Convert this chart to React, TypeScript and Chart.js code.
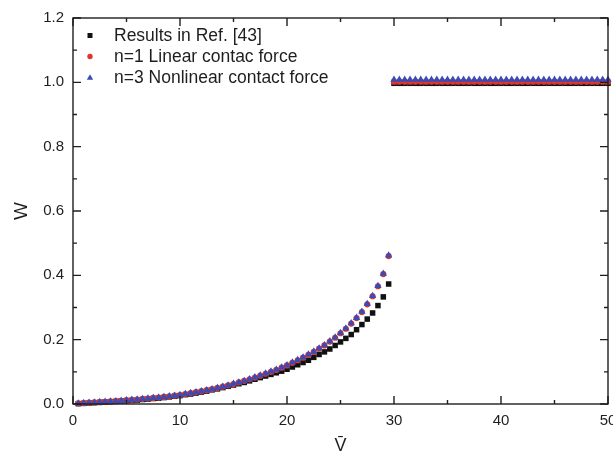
import React, { useEffect, useRef } from 'react';
import { Chart, registerables } from 'chart.js';

Chart.register(...registerables);

// ---- data ----
const V_LOW = [
  0.5, 1, 1.5, 2, 2.5, 3, 3.5, 4, 4.5, 5,
  5.5, 6, 6.5, 7, 7.5, 8, 8.5, 9, 9.5, 10,
  10.5, 11, 11.5, 12, 12.5, 13, 13.5, 14, 14.5, 15,
  15.5, 16, 16.5, 17, 17.5, 18, 18.5, 19, 19.5, 20,
  20.5, 21, 21.5, 22, 22.5, 23, 23.5, 24, 24.5, 25,
  25.5, 26, 26.5, 27, 27.5, 28, 28.5, 29, 29.5,
];
const V_HIGH = [
  30, 30.5, 31, 31.5, 32, 32.5, 33, 33.5, 34, 34.5,
  35, 35.5, 36, 36.5, 37, 37.5, 38, 38.5, 39, 39.5,
  40, 40.5, 41, 41.5, 42, 42.5, 43, 43.5, 44, 44.5,
  45, 45.5, 46, 46.5, 47, 47.5, 48, 48.5, 49, 49.5, 50,
];

const W_REF43_LOW = [
  0.001, 0.002, 0.003, 0.004, 0.005, 0.006, 0.007, 0.008, 0.009, 0.010,
  0.011, 0.012, 0.014, 0.015, 0.017, 0.018, 0.020, 0.022, 0.024, 0.026,
  0.029, 0.031, 0.034, 0.037, 0.040, 0.044, 0.047, 0.051, 0.055, 0.059,
  0.063, 0.067, 0.072, 0.077, 0.082, 0.087, 0.092, 0.097, 0.102, 0.108,
  0.115, 0.122, 0.129, 0.136, 0.145, 0.154, 0.162, 0.171, 0.182, 0.193,
  0.204, 0.216, 0.231, 0.247, 0.264, 0.283, 0.306, 0.333, 0.373,
];
const W_REF43_HIGH = [
  0.997, 0.997, 0.997, 0.997, 0.997, 0.997, 0.997, 0.997, 0.997, 0.997,
  0.997, 0.997, 0.997, 0.997, 0.997, 0.997, 0.997, 0.997, 0.997, 0.997,
  0.997, 0.997, 0.997, 0.997, 0.997, 0.997, 0.997, 0.997, 0.997, 0.997,
  0.997, 0.997, 0.997, 0.997, 0.997, 0.997, 0.997, 0.997, 0.997, 0.997, 0.997,
];

const W_N1_LOW = [
  0.002, 0.003, 0.004, 0.005, 0.006, 0.007, 0.008, 0.009, 0.010, 0.012,
  0.013, 0.014, 0.016, 0.017, 0.019, 0.020, 0.022, 0.024, 0.026, 0.028,
  0.031, 0.034, 0.037, 0.040, 0.043, 0.046, 0.050, 0.054, 0.058, 0.062,
  0.067, 0.072, 0.077, 0.082, 0.088, 0.094, 0.100, 0.106, 0.113, 0.120,
  0.128, 0.136, 0.144, 0.153, 0.162, 0.172, 0.182, 0.194, 0.206, 0.220,
  0.234, 0.250, 0.267, 0.286, 0.310, 0.335, 0.366, 0.404, 0.460,
];
const W_N1_HIGH = [
  1.002, 1.002, 1.002, 1.002, 1.002, 1.002, 1.002, 1.002, 1.002, 1.002,
  1.002, 1.002, 1.002, 1.002, 1.002, 1.002, 1.002, 1.002, 1.002, 1.002,
  1.002, 1.002, 1.002, 1.002, 1.002, 1.002, 1.002, 1.002, 1.002, 1.002,
  1.002, 1.002, 1.002, 1.002, 1.002, 1.002, 1.002, 1.002, 1.002, 1.002, 1.002,
];

const W_N3_LOW = [
  0.002, 0.003, 0.004, 0.005, 0.006, 0.007, 0.008, 0.009, 0.010, 0.012,
  0.013, 0.014, 0.016, 0.017, 0.019, 0.020, 0.022, 0.024, 0.026, 0.028,
  0.031, 0.034, 0.037, 0.040, 0.043, 0.046, 0.050, 0.054, 0.058, 0.063,
  0.067, 0.072, 0.077, 0.083, 0.089, 0.095, 0.101, 0.107, 0.114, 0.121,
  0.129, 0.137, 0.145, 0.154, 0.163, 0.173, 0.183, 0.195, 0.207, 0.221,
  0.235, 0.251, 0.268, 0.287, 0.311, 0.336, 0.367, 0.405, 0.462,
];
const W_N3_HIGH = [
  1.008, 1.008, 1.008, 1.008, 1.008, 1.008, 1.008, 1.008, 1.008, 1.008,
  1.008, 1.008, 1.008, 1.008, 1.008, 1.008, 1.008, 1.008, 1.008, 1.008,
  1.008, 1.008, 1.008, 1.008, 1.008, 1.008, 1.008, 1.008, 1.008, 1.008,
  1.008, 1.008, 1.008, 1.008, 1.008, 1.008, 1.008, 1.008, 1.008, 1.008, 1.008,
];

const SERIES_LABELS = ['Results in Ref. [43]', 'n=1 Linear contac force', 'n=3 Nonlinear contact force'];
const X_MINOR = [5, 15, 25, 35, 45];
const Y_MINOR = [0.1, 0.3, 0.5, 0.7, 0.9, 1.1];

const FONT = '"Liberation Sans", Arial, Helvetica, sans-serif';
const INK = '#1e1e1e';
const C_REF = '#111111';
const C_N1 = '#e0352b';
const C_N3 = '#3a4bb5';

function pts(vs: number[], ws: number[]) {
  return vs.map((v, i) => ({ x: v, y: ws[i] }));
}

const framePlugin = {
  id: 'frameTicks',
  afterDatasetsDraw(chart: any) {
    const { ctx, chartArea, scales } = chart;
    const { left, right, top, bottom } = chartArea;
    const xs = scales.x;
    const ys = scales.y;
    ctx.save();
    ctx.strokeStyle = INK;
    ctx.lineWidth = 1.4;
    ctx.strokeRect(left, top, right - left, bottom - top);
    ctx.beginPath();
    const major = 8;
    const minor = 4;
    xs.ticks.forEach((t: any) => {
      const px = xs.getPixelForValue(t.value);
      ctx.moveTo(px, bottom); ctx.lineTo(px, bottom - major);
      ctx.moveTo(px, top); ctx.lineTo(px, top + major);
    });
    X_MINOR.forEach((v) => {
      const px = xs.getPixelForValue(v);
      ctx.moveTo(px, bottom); ctx.lineTo(px, bottom - minor);
      ctx.moveTo(px, top); ctx.lineTo(px, top + minor);
    });
    ys.ticks.forEach((t: any) => {
      const py = ys.getPixelForValue(t.value);
      ctx.moveTo(left, py); ctx.lineTo(left + major, py);
      ctx.moveTo(right, py); ctx.lineTo(right - major, py);
    });
    Y_MINOR.forEach((v) => {
      const py = ys.getPixelForValue(v);
      ctx.moveTo(left, py); ctx.lineTo(left + minor, py);
      ctx.moveTo(right, py); ctx.lineTo(right - minor, py);
    });
    ctx.stroke();
    ctx.restore();
  },
};

const legendPlugin = {
  id: 'insideLegend',
  afterDraw(chart: any) {
    const { ctx, chartArea } = chart;
    const { left, top } = chartArea;
    const styles = [
      { shape: 'rect', color: C_REF },
      { shape: 'circle', color: C_N1 },
      { shape: 'triangle', color: C_N3 },
    ];
    ctx.save();
    ctx.font = `17.5px ${FONT}`;
    ctx.textBaseline = 'middle';
    ctx.textAlign = 'left';
    SERIES_LABELS.forEach((label, i) => {
      const cy = top + 17.5 + i * 21;
      const cx = left + 17;
      const st = styles[i];
      ctx.fillStyle = st.color;
      ctx.beginPath();
      if (st.shape === 'rect') {
        ctx.rect(cx - 2.5, cy - 2.5, 5, 5);
      } else if (st.shape === 'circle') {
        ctx.arc(cx, cy, 2.7, 0, Math.PI * 2);
      } else {
        ctx.moveTo(cx, cy - 3.3);
        ctx.lineTo(cx + 3.2, cy + 2.3);
        ctx.lineTo(cx - 3.2, cy + 2.3);
        ctx.closePath();
      }
      ctx.fill();
      ctx.fillStyle = INK;
      ctx.fillText(label, left + 41, cy + 0.5);
    });
    ctx.restore();
  },
};

export default function App() {
  const ref = useRef<HTMLCanvasElement | null>(null);

  useEffect(() => {
    document.body.style.margin = '0';
    const canvas = ref.current;
    if (!canvas) return;
    Chart.defaults.font.family = FONT;
    const chart = new Chart(canvas, {
      type: 'scatter',
      data: {
        datasets: [
          {
            label: SERIES_LABELS[2],
            data: pts(V_LOW.concat(V_HIGH), W_N3_LOW.concat(W_N3_HIGH)),
            pointStyle: 'triangle',
            pointRadius: 4.2,
            backgroundColor: C_N3,
            borderColor: C_N3,
            borderWidth: 0,
            clip: false,
          },
          {
            label: SERIES_LABELS[1],
            data: pts(V_LOW.concat(V_HIGH), W_N1_LOW.concat(W_N1_HIGH)),
            pointStyle: 'circle',
            pointRadius: 3.1,
            backgroundColor: C_N1,
            borderColor: C_N1,
            borderWidth: 0,
            clip: false,
          },
          {
            label: SERIES_LABELS[0],
            data: pts(V_LOW.concat(V_HIGH), W_REF43_LOW.concat(W_REF43_HIGH)),
            pointStyle: 'rect',
            pointRadius: 3.9,
            backgroundColor: C_REF,
            borderColor: C_REF,
            borderWidth: 0,
            clip: false,
          },
        ],
      },
      options: {
        responsive: false,
        maintainAspectRatio: false,
        devicePixelRatio: 1,
        animation: false,
        layout: { padding: { left: 0, top: 13, right: 32, bottom: 0 } },
        plugins: {
          legend: { display: false },
          tooltip: { enabled: false },
        },
        scales: {
          x: {
            type: 'linear',
            min: 0,
            max: 50,
            grid: { display: false, drawTicks: false },
            border: { display: false },
            ticks: {
              stepSize: 10,
              padding: 8,
              color: INK,
              font: { size: 15, family: FONT },
              maxRotation: 0,
            },
            title: {
              display: true,
              text: 'V\u0304',
              color: INK,
              font: { size: 18, family: FONT },
              padding: { top: 0, bottom: 3 },
            },
            afterFit: (s: any) => { s.height = 56; },
          },
          y: {
            type: 'linear',
            min: 0,
            max: 1.2,
            grid: { display: false, drawTicks: false },
            border: { display: false },
            ticks: {
              stepSize: 0.2,
              padding: 9,
              color: INK,
              font: { size: 15, family: FONT },
              callback: (v: any) => Number(v).toFixed(1),
            },
            title: {
              display: true,
              text: 'W',
              color: INK,
              font: { size: 19, family: FONT },
              padding: { top: 10, bottom: 0 },
            },
            afterFit: (s: any) => { s.width = 73; },
          },
        },
      },
      plugins: [framePlugin, legendPlugin],
    } as any);
    return () => chart.destroy();
  }, []);

  return (
    <div style={{ width: 613, height: 460, overflow: 'hidden', position: 'relative', background: '#fff' }}>
      <canvas ref={ref} width={640} height={460} style={{ display: 'block', width: 640, height: 460 }} />
    </div>
  );
}
